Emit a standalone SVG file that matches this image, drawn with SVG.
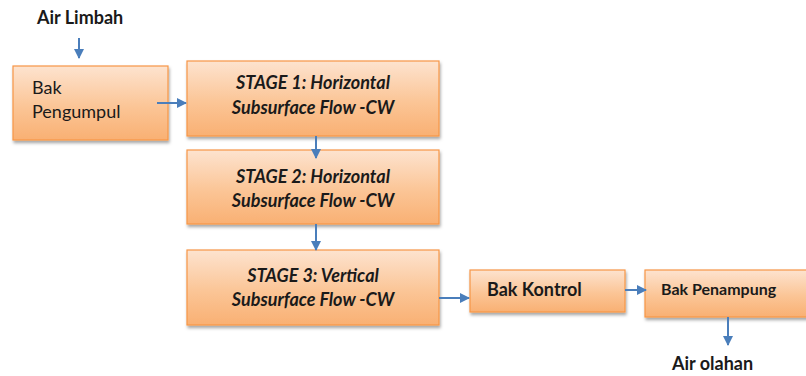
<svg xmlns="http://www.w3.org/2000/svg" width="806" height="376" viewBox="0 0 806 376">
  <defs>
    <linearGradient id="boxFill" x1="0" y1="0" x2="0" y2="1">
      <stop offset="0" stop-color="#fde3cf"/>
      <stop offset="0.55" stop-color="#fbc596"/>
      <stop offset="1" stop-color="#f9b073"/>
    </linearGradient>
    <filter id="shadow" x="-5%" y="-10%" width="115%" height="130%">
      <feDropShadow dx="1" dy="2.5" stdDeviation="1.5" flood-color="#000" flood-opacity="0.35"/>
    </filter>
    <marker id="arrow" viewBox="0 0 10 10" refX="9" refY="5" markerWidth="5" markerHeight="5" orient="auto" markerUnits="strokeWidth">
      <path d="M0,0 L10,5 L0,10 z" fill="#4a7ebb"/>
    </marker>
  </defs>
  <style>
    .box { fill: url(#boxFill); stroke: #f79646; stroke-width: 1.2; filter: url(#shadow); }
    .lbl { font-family: Lato, "Open Sans", "Liberation Sans", sans-serif; font-size: 18px; fill: #1a1a1a; }
    .b { font-weight: bold; }
    .bi { font-weight: bold; font-style: italic; }
    .edge { stroke: #4a7ebb; stroke-width: 2; fill: none; marker-end: url(#arrow); }
  </style>
  <rect width="806" height="376" fill="#ffffff"/>

  <g id="air-limbah">
    <text class="lbl b" x="37" y="24">Air Limbah</text>
  </g>

  <g id="bak-pengumpul">
    <rect class="box" x="13" y="66" width="155" height="74"/>
    <text class="lbl" x="32" y="94">Bak</text>
    <text class="lbl" x="32" y="118">Pengumpul</text>
  </g>

  <g id="stage-1">
    <rect class="box" x="187" y="61" width="252" height="75"/>
    <text class="lbl bi" x="313" y="89" text-anchor="middle">STAGE 1: Horizontal</text>
    <text class="lbl bi" x="313" y="114" text-anchor="middle">Subsurface Flow -CW</text>
  </g>

  <g id="stage-2">
    <rect class="box" x="187" y="150" width="252" height="74"/>
    <text class="lbl bi" x="313" y="183" text-anchor="middle">STAGE 2: Horizontal</text>
    <text class="lbl bi" x="313" y="207" text-anchor="middle">Subsurface Flow -CW</text>
  </g>

  <g id="stage-3">
    <rect class="box" x="187" y="250" width="252" height="75"/>
    <text class="lbl bi" x="313" y="282" text-anchor="middle">STAGE 3: Vertical</text>
    <text class="lbl bi" x="313" y="306" text-anchor="middle">Subsurface Flow -CW</text>
  </g>

  <g id="bak-kontrol">
    <rect class="box" x="470" y="270" width="155" height="42"/>
    <text class="lbl b" x="487" y="296">Bak Kontrol</text>
  </g>

  <g id="bak-penampung">
    <rect class="box" x="645" y="270" width="166" height="47"/>
    <text class="lbl b" x="661" y="295" style="font-size:16px">Bak Penampung</text>
  </g>

  <g id="air-olahan">
    <text class="lbl b" x="672" y="370">Air olahan</text>
  </g>

  <g id="connectors">
    <line class="edge" x1="79" y1="38" x2="79" y2="58"/>
    <line class="edge" x1="157" y1="103" x2="186" y2="103"/>
    <line class="edge" x1="316" y1="136" x2="316" y2="158"/>
    <line class="edge" x1="316" y1="224" x2="316" y2="250"/>
    <line class="edge" x1="439" y1="298" x2="469" y2="298"/>
    <line class="edge" x1="625" y1="290" x2="646" y2="290"/>
    <line class="edge" x1="728" y1="317" x2="728" y2="345"/>
  </g>
</svg>
